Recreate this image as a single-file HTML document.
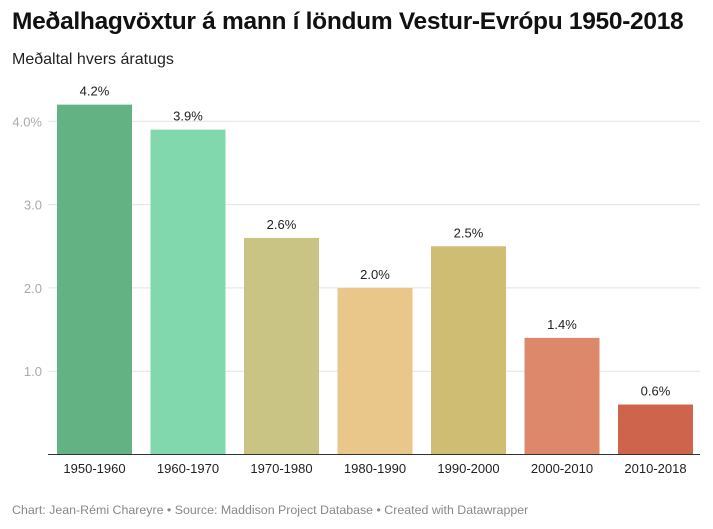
<!DOCTYPE html>
<html><head><meta charset="utf-8"><style>
body{margin:0;background:#fff;font-family:"Liberation Sans",sans-serif;}
#wrap{position:relative;width:713px;height:529px;overflow:hidden}
h1{position:absolute;left:12px;top:8px;margin:0;font-size:24.5px;font-weight:bold;color:#111;letter-spacing:-0.3px;white-space:nowrap}
.sub{position:absolute;left:12px;top:51px;font-size:16px;color:#222}
.foot{position:absolute;left:12px;top:503px;font-size:12.4px;color:#888;white-space:nowrap}
</style></head><body>
<div id="wrap">
<h1>Meðalhagvöxtur á mann í löndum Vestur-Evrópu 1950-2018</h1>
<div class="sub">Meðaltal hvers áratugs</div>
<svg id="chart" width="713" height="529" style="position:absolute;left:0;top:0"></svg>
<div class="foot">Chart: Jean-Rémi Chareyre • Source: Maddison Project Database • Created with Datawrapper</div>
</div>
<script>
const categories=["1950-1960","1960-1970","1970-1980","1980-1990","1990-2000","2000-2010","2010-2018"];
const values=[4.2,3.9,2.6,2.0,2.5,1.4,0.6];
const valueLabels=["4.2%","3.9%","2.6%","2.0%","2.5%","1.4%","0.6%"];
const colors=["#62b283","#80d8ac","#c9c484","#e9c68a","#cfbd73","#dd886a","#cf644c"];
const ticks=[1,2,3,4];
const tickLabels=["1.0","2.0","3.0","4.0%"];
const NS="http://www.w3.org/2000/svg";
const svg=document.getElementById('chart');
const y0=454.5, unit=83.3;
const y=v=>y0-v*unit;
const x=i=>57+i*93.5;
const bw=75;
function mk(t,a){const e=document.createElementNS(NS,t);for(const k in a)e.setAttribute(k,a[k]);svg.appendChild(e);return e;}
ticks.forEach((t,i)=>{
 const g=mk('line',{x1:48,x2:700,y1:y(t),y2:y(t),stroke:'#e3e3e3','stroke-width':1});
 
 
 const l=mk('text',{x:42,y:y(t)+5,'text-anchor':'end','font-size':13,fill:'#aaa','font-family':'Liberation Sans, sans-serif'});
 l.textContent=tickLabels[i];
 
 
});
values.forEach((v,i)=>{
 const r=mk('rect',{x:x(i),y:y(v),width:bw,height:v*unit,fill:colors[i]});
 
 
 const t=mk('text',{x:x(i)+bw/2,y:y(v)-9,'text-anchor':'middle','font-size':13,fill:'#222','font-family':'Liberation Sans, sans-serif'});
 t.textContent=valueLabels[i];
 
 
 const c=mk('text',{x:x(i)+bw/2,y:473,'text-anchor':'middle','font-size':13,fill:'#222','font-family':'Liberation Sans, sans-serif'});
 c.textContent=categories[i];
 
 
});
const base=mk('line',{x1:48,x2:700,y1:y0,y2:y0,stroke:'#333','stroke-width':1});


</script>
</body></html>
